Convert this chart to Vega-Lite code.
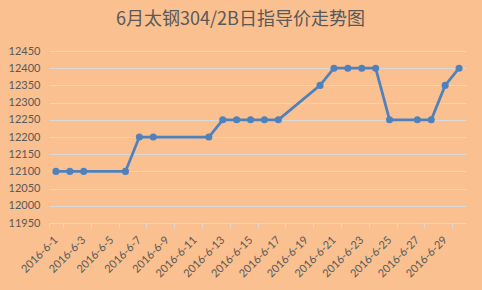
{
  "$schema": "https://vega.github.io/schema/vega-lite/v6.json",
  "width": 417,
  "height": 172,
  "autosize": "none",
  "padding": {"left": 49, "top": 51, "right": 16, "bottom": 67},
  "background": "#FAC090",
  "title": {
    "text": "6月太钢304/2B日指导价走势图",
    "font": "Noto Sans CJK SC",
    "fontSize": 18,
    "fontWeight": "normal",
    "color": "#595959",
    "anchor": "middle",
    "dx": -17,
    "offset": 16
  },
  "config": {
    "view": {"stroke": null},
    "axis": {
      "labelFont": "Lato",
      "labelFontSize": 11,
      "labelColor": "#595959",
      "gridColor": "#D9D9D9",
      "domainColor": "#D9D9D9",
      "tickColor": "#D9D9D9",
      "title": null
    }
  },
  "data": {
    "values": [
      {"date": "2016-6-1", "price": 12100},
      {"date": "2016-6-2", "price": 12100},
      {"date": "2016-6-3", "price": 12100},
      {"date": "2016-6-6", "price": 12100},
      {"date": "2016-6-7", "price": 12200},
      {"date": "2016-6-8", "price": 12200},
      {"date": "2016-6-12", "price": 12200},
      {"date": "2016-6-13", "price": 12250},
      {"date": "2016-6-14", "price": 12250},
      {"date": "2016-6-15", "price": 12250},
      {"date": "2016-6-16", "price": 12250},
      {"date": "2016-6-17", "price": 12250},
      {"date": "2016-6-20", "price": 12350},
      {"date": "2016-6-21", "price": 12400},
      {"date": "2016-6-22", "price": 12400},
      {"date": "2016-6-23", "price": 12400},
      {"date": "2016-6-24", "price": 12400},
      {"date": "2016-6-25", "price": 12250},
      {"date": "2016-6-27", "price": 12250},
      {"date": "2016-6-28", "price": 12250},
      {"date": "2016-6-29", "price": 12350},
      {"date": "2016-6-30", "price": 12400}
    ]
  },
  "mark": {
    "type": "line",
    "color": "#4F81BD",
    "strokeWidth": 2.75,
    "point": {"filled": true, "size": 50, "color": "#4F81BD", "opacity": 1}
  },
  "encoding": {
    "x": {
      "field": "date",
      "type": "ordinal",
      "sort": null,
      "bandPosition": 0.5,
      "scale": {
        "type": "band",
        "paddingInner": 0,
        "paddingOuter": 0,
        "domain": ["2016-6-1","2016-6-2","2016-6-3","2016-6-4","2016-6-5","2016-6-6","2016-6-7","2016-6-8","2016-6-9","2016-6-10","2016-6-11","2016-6-12","2016-6-13","2016-6-14","2016-6-15","2016-6-16","2016-6-17","2016-6-18","2016-6-19","2016-6-20","2016-6-21","2016-6-22","2016-6-23","2016-6-24","2016-6-25","2016-6-26","2016-6-27","2016-6-28","2016-6-29","2016-6-30"]
      },
      "axis": {
        "values": ["2016-6-1","2016-6-3","2016-6-5","2016-6-7","2016-6-9","2016-6-11","2016-6-13","2016-6-15","2016-6-17","2016-6-19","2016-6-21","2016-6-23","2016-6-25","2016-6-27","2016-6-29"],
        "tickBand": "extent",
        "labelAngle": -45,
        "labelAlign": "right",
        "labelBaseline": "middle",
        "tickSize": 5,
        "labelPadding": 10,
        "grid": false,
        "labelOverlap": false
      }
    },
    "y": {
      "field": "price",
      "type": "quantitative",
      "scale": {"domain": [11950, 12450], "nice": false, "zero": false},
      "axis": {
        "values": [11950, 12000, 12050, 12100, 12150, 12200, 12250, 12300, 12350, 12400, 12450],
        "format": "d",
        "ticks": false,
        "domain": false,
        "labelPadding": 9,
        "grid": true
      }
    }
  }
}
